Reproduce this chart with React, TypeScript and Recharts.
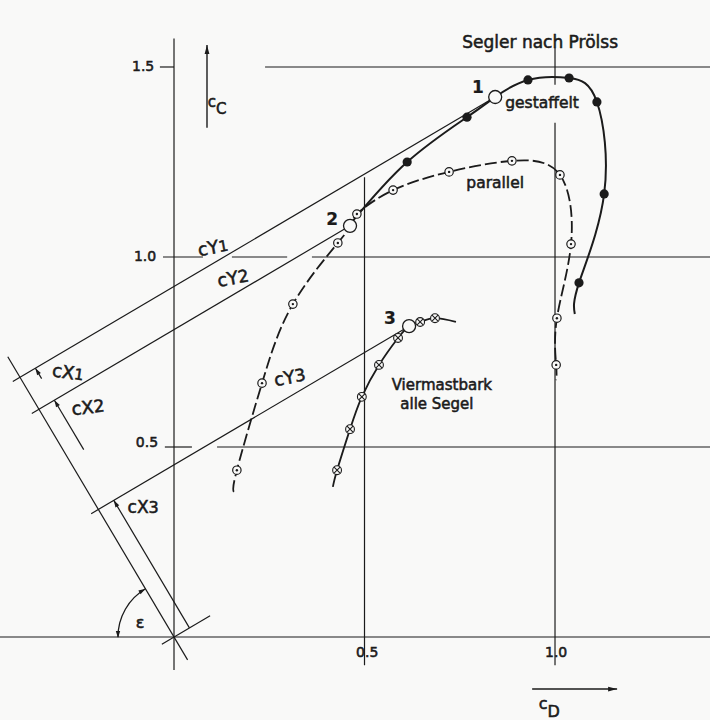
import React from 'react';
import { ComposedChart, Line, Scatter, XAxis, YAxis, ReferenceLine, ReferenceDot } from 'recharts';

// axis ranges (cD horizontal, cC vertical)
const xDomain = [-0.4567, 1.4068];
const yDomain = [-0.2184, 1.6763];

// curve 1 "gestaffelt": solid line, filled points
const gestaffeltTrace = [
  { x: 0.465, y: 1.09 }, { x: 0.612, y: 1.25 }, { x: 0.769, y: 1.368 }, { x: 0.843, y: 1.421 },
  { x: 0.929, y: 1.466 }, { x: 1.037, y: 1.471 }, { x: 1.11, y: 1.408 }, { x: 1.129, y: 1.166 },
  { x: 1.063, y: 0.932 }, { x: 1.052, y: 0.85 },
];
const gestaffeltPts = [
  { x: 0.612, y: 1.25 }, { x: 0.769, y: 1.368 }, { x: 0.929, y: 1.466 }, { x: 1.037, y: 1.471 },
  { x: 1.11, y: 1.408 }, { x: 1.129, y: 1.166 }, { x: 1.063, y: 0.932 },
];

// curve 2 "parallel": dashed line, dotted circles
const parallelTrace = [
  { x: 0.157, y: 0.382 }, { x: 0.165, y: 0.439 }, { x: 0.231, y: 0.668 }, { x: 0.312, y: 0.876 },
  { x: 0.43, y: 1.037 }, { x: 0.462, y: 1.082 }, { x: 0.48, y: 1.113 }, { x: 0.575, y: 1.176 },
  { x: 0.722, y: 1.224 }, { x: 0.887, y: 1.253 }, { x: 1.013, y: 1.216 }, { x: 1.042, y: 1.034 },
  { x: 1.005, y: 0.839 }, { x: 1.003, y: 0.716 }, { x: 1.003, y: 0.676 },
];
const parallelPts = [
  { x: 0.165, y: 0.439 }, { x: 0.231, y: 0.668 }, { x: 0.312, y: 0.876 }, { x: 0.43, y: 1.037 },
  { x: 0.48, y: 1.113 }, { x: 0.575, y: 1.176 }, { x: 0.722, y: 1.224 }, { x: 0.887, y: 1.253 },
  { x: 1.013, y: 1.216 }, { x: 1.042, y: 1.034 }, { x: 1.005, y: 0.839 }, { x: 1.003, y: 0.716 },
];

// curve 3 "Viermastbark alle Segel": solid line, crossed circles
const viermastTrace = [
  { x: 0.417, y: 0.395 }, { x: 0.428, y: 0.439 }, { x: 0.462, y: 0.547 }, { x: 0.493, y: 0.632 },
  { x: 0.538, y: 0.716 }, { x: 0.588, y: 0.787 }, { x: 0.617, y: 0.818 }, { x: 0.646, y: 0.829 },
  { x: 0.685, y: 0.839 }, { x: 0.74, y: 0.829 },
];
const viermastPts = [
  { x: 0.428, y: 0.439 }, { x: 0.462, y: 0.547 }, { x: 0.493, y: 0.632 }, { x: 0.538, y: 0.716 },
  { x: 0.588, y: 0.787 }, { x: 0.646, y: 0.829 }, { x: 0.685, y: 0.839 },
];

// operating points 1, 2, 3 (open circles)
const refPts = [
  { x: 0.843, y: 1.421 },
  { x: 0.462, y: 1.082 },
  { x: 0.617, y: 0.818 },
];
const cxTails = [0.762, 0.545, 0]; // where each cX arrow shaft starts along the rotated axis

const epsDeg = 59.4;

const ink = '#1b1b1b';
const bg = '#f9f9f8';
const font = '"DejaVu Sans", sans-serif';

// rotated axis construction
const e = (epsDeg * Math.PI) / 180;
const u = { x: -Math.cos(e), y: Math.sin(e) };
const n = { x: Math.sin(e), y: Math.cos(e) };
const along = (s: number, o = 0) => ({ x: s * u.x + o * n.x, y: s * u.y + o * n.y });
const dotU = (p: { x: number; y: number }) => p.x * u.x + p.y * u.y;

const cyLines = refPts.map((p) => [along(dotU(p), -0.022), p]);
const cxArrows = refPts.map((p, i) => [along(cxTails[i], 0.047), along(dotU(p), 0.047)]);

// grid / frame segments
const hSegs = [
  { y: 0, from: -0.4567, to: 1.4068 },
  { y: 0.5, from: -0.024, to: 0.047 },
  { y: 0.5, from: 0.113, to: 1.4068 },
  { y: 1.0, from: -0.029, to: 0.076 },
  { y: 1.0, from: 0.152, to: 0.297 },
  { y: 1.0, from: 0.362, to: 1.4068 },
  { y: 1.5, from: -0.037, to: 0 },
  { y: 1.5, from: 0.239, to: 1.4068 },
];
const vSegs = [
  { x: 0, from: -0.087, to: 1.575 },
  { x: 0.5, from: -0.074, to: 1.21 },
  { x: 1.0, from: -0.074, to: 1.353 },
  { x: 1.0, from: 1.453, to: 1.55 },
];

type Note = { t: string; sub?: string; x: number; y: number; fs: number; bold?: boolean; rot?: number; subFs?: number; subDy?: number };
const notes: Note[] = [
  { t: 'Segler nach Prölss', x: 0.961, y: 1.566, fs: 17 },
  { t: '1', x: 0.798, y: 1.447, fs: 17, bold: true },
  { t: 'gestaffelt', x: 0.966, y: 1.405, fs: 15.5 },
  { t: 'parallel', x: 0.843, y: 1.195, fs: 15.5 },
  { t: '2', x: 0.415, y: 1.1, fs: 17, bold: true },
  { t: '3', x: 0.567, y: 0.839, fs: 17, bold: true },
  { t: 'Viermastbark', x: 0.703, y: 0.664, fs: 15 },
  { t: 'alle Segel', x: 0.69, y: 0.612, fs: 15 },
  { t: 'cY', sub: '1', x: 0.102, y: 1.026, fs: 18, rot: -10, subFs: 15, subDy: 1 },
  { t: 'cY', sub: '2', x: 0.155, y: 0.945, fs: 18, rot: -10, subFs: 17, subDy: 0 },
  { t: 'cY', sub: '3', x: 0.304, y: 0.684, fs: 18, rot: -10, subFs: 17, subDy: 0 },
  { t: 'cX', sub: '1', x: -0.278, y: 0.697, fs: 18, rot: 8, subFs: 15, subDy: 1 },
  { t: 'cX', sub: '2', x: -0.226, y: 0.605, fs: 18, rot: -6, subFs: 17, subDy: 0 },
  { t: 'cX', sub: '3', x: -0.081, y: 0.342, fs: 17, subFs: 16, subDy: 0 },
  { t: 'ε', x: -0.089, y: 0.039, fs: 16 },
  { t: '1.5', x: -0.081, y: 1.503, fs: 14 },
  { t: '1.0', x: -0.076, y: 1.003, fs: 14 },
  { t: '0.5', x: -0.071, y: 0.513, fs: 14 },
  { t: '0.5', x: 0.507, y: -0.039, fs: 14 },
  { t: '1.0', x: 1.003, y: -0.039, fs: 14 },
  { t: 'c', sub: 'C', x: 0.113, y: 1.408, fs: 15, subFs: 15, subDy: 7 },
  { t: 'c', sub: 'D', x: 0.985, y: -0.176, fs: 16, subFs: 16, subDy: 7 },
];

const axisArrows = [
  [{ x: 0.0866, y: 1.34 }, { x: 0.0866, y: 1.558 }],
  [{ x: 0.94, y: -0.137 }, { x: 1.163, y: -0.137 }],
];

function head(x: number, y: number, dx: number, dy: number, len = 8, w = 2.4) {
  const L = Math.hypot(dx, dy) || 1;
  const ux = dx / L;
  const uy = dy / L;
  const bx = x - ux * len;
  const by = y - uy * len;
  return `${x},${y} ${bx - uy * w},${by + ux * w} ${bx + uy * w},${by - ux * w}`;
}

const arrowShape = (len: number, w: number, sw: number) => (p: any) => (
  <g>
    <line x1={p.x1} y1={p.y1} x2={p.x2} y2={p.y2} stroke={ink} strokeWidth={sw} />
    <polygon points={head(p.x2, p.y2, p.x2 - p.x1, p.y2 - p.y1, len, w)} fill={ink} />
  </g>
);

// epsilon arc: centred on the first end, radius = segment length
const arcShape = (p: any) => {
  const R = Math.hypot(p.x2 - p.x1, p.y2 - p.y1);
  const sx = p.x1 - R;
  const sy = p.y1;
  const ex = p.x1 - R * Math.cos(e);
  const ey = p.y1 - R * Math.sin(e);
  return (
    <g>
      <path d={`M${sx},${sy} A${R},${R} 0 0 1 ${ex},${ey}`} fill="none" stroke={ink} strokeWidth={1.3} />
      <polygon points={head(sx, sy + 1, 0, 1, 7, 2.2)} fill={ink} />
      <polygon points={head(ex, ey, Math.sin(e), -Math.cos(e), 7, 2.2)} fill={ink} />
    </g>
  );
};

const filledDot = (p: any) => <circle cx={p.cx} cy={p.cy} r={4.6} fill={ink} />;
const ringDot = (p: any) => (
  <g>
    <circle cx={p.cx} cy={p.cy} r={4.2} fill={bg} stroke={ink} strokeWidth={1.2} />
    <circle cx={p.cx} cy={p.cy} r={1.2} fill={ink} />
  </g>
);
const crossDot = (p: any) => {
  const d = 3;
  return (
    <g stroke={ink} strokeWidth={1.1}>
      <circle cx={p.cx} cy={p.cy} r={4.4} fill={bg} />
      <line x1={p.cx - d} y1={p.cy - d} x2={p.cx + d} y2={p.cy + d} />
      <line x1={p.cx - d} y1={p.cy + d} x2={p.cx + d} y2={p.cy - d} />
    </g>
  );
};
const openDot = (p: any) => <circle cx={p.cx} cy={p.cy} r={6.5} fill={bg} stroke={ink} strokeWidth={1.3} />;

const noteShape = (a: Note) => (p: any) => (
  <text
    x={p.cx}
    y={p.cy}
    textAnchor="middle"
    dominantBaseline="central"
    fontFamily={font}
    fontSize={a.fs}
    fontWeight={a.bold ? 'bold' : 'normal'}
    fill={ink}
    stroke={ink}
    strokeWidth={a.bold ? 0.2 : 0.55}
    transform={a.rot ? `rotate(${a.rot} ${p.cx} ${p.cy})` : undefined}
  >
    {a.t}
    {a.sub && (
      <tspan fontSize={a.subFs} dy={a.subDy}>
        {a.sub}
      </tspan>
    )}
  </text>
);

const lineStyle = { stroke: ink, strokeWidth: 1.2 };

export default function App() {
  return (
    <div style={{ position: 'absolute', left: 0, top: 0, width: 710, height: 720, background: bg }}>
      <ComposedChart width={710} height={720} margin={{ top: 0, right: 0, bottom: 0, left: 0 }}>
        <XAxis type="number" dataKey="x" domain={xDomain} allowDataOverflow hide />
        <YAxis type="number" dataKey="y" domain={yDomain} allowDataOverflow hide />

        {hSegs.map((s, i) => (
          <ReferenceLine key={'h' + i} segment={[{ x: s.from, y: s.y }, { x: s.to, y: s.y }]} {...lineStyle} ifOverflow="visible" />
        ))}
        {vSegs.map((s, i) => (
          <ReferenceLine key={'v' + i} segment={[{ x: s.x, y: s.from }, { x: s.x, y: s.to }]} {...lineStyle} ifOverflow="visible" />
        ))}

        {/* rotated axis through origin and its perpendicular */}
        <ReferenceLine segment={[along(-0.07), along(0.857)]} {...lineStyle} ifOverflow="visible" />
        <ReferenceLine segment={[along(0, -0.037), along(0, 0.11)]} {...lineStyle} ifOverflow="visible" />
        {cyLines.map((s, i) => (
          <ReferenceLine key={'cy' + i} segment={s} {...lineStyle} ifOverflow="visible" />
        ))}
        {cxArrows.map((s, i) => (
          <ReferenceLine key={'cx' + i} segment={s} ifOverflow="visible" shape={arrowShape(7, 2.2, 1.2)} />
        ))}
        <ReferenceLine segment={[{ x: 0, y: 0 }, { x: -0.147, y: 0 }]} ifOverflow="visible" shape={arcShape} />
        {axisArrows.map((s, i) => (
          <ReferenceLine key={'ax' + i} segment={s} ifOverflow="visible" shape={arrowShape(9, 2.4, 1.4)} />
        ))}

        <Line data={parallelTrace} dataKey="y" type="natural" stroke={ink} strokeWidth={1.8} strokeDasharray="12 4" dot={false} activeDot={false} isAnimationActive={false} />
        <Line data={gestaffeltTrace} dataKey="y" type="natural" stroke={ink} strokeWidth={2} dot={false} activeDot={false} isAnimationActive={false} />
        <Line data={viermastTrace} dataKey="y" type="natural" stroke={ink} strokeWidth={1.8} dot={false} activeDot={false} isAnimationActive={false} />

        <Scatter data={gestaffeltPts} dataKey="y" shape={filledDot} isAnimationActive={false} />
        <Scatter data={parallelPts} dataKey="y" shape={ringDot} isAnimationActive={false} />
        <Scatter data={viermastPts} dataKey="y" shape={crossDot} isAnimationActive={false} />
        <Scatter data={refPts} dataKey="y" shape={openDot} isAnimationActive={false} />

        {notes.map((a, i) => (
          <ReferenceDot key={'n' + i} x={a.x} y={a.y} r={0} ifOverflow="visible" shape={noteShape(a)} />
        ))}
      </ComposedChart>
    </div>
  );
}
